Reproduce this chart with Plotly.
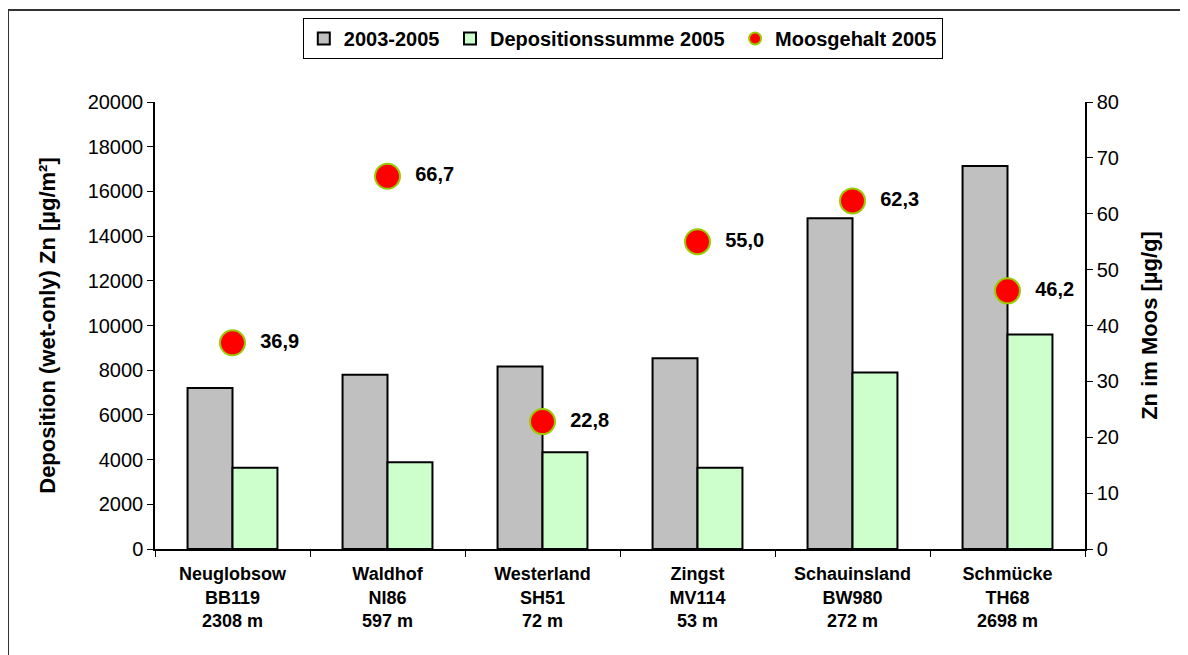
import plotly.graph_objects as go

stations = ["Neuglobsow", "Waldhof", "Westerland", "Zingst", "Schauinsland", "Schmücke"]
codes = ["BB119", "NI86", "SH51", "MV114", "BW980", "TH68"]
heights = ["2308 m", "597 m", "72 m", "53 m", "272 m", "2698 m"]
dep_2003_2005 = [7200, 7800, 8160, 8530, 14800, 17140]
dep_sum_2005 = [3630, 3880, 4330, 3640, 7900, 9600]
moss_2005 = [36.9, 66.7, 22.8, 55.0, 62.3, 46.2]

cats = [f"{s}<br>{c}<br>{h}" for s, c, h in zip(stations, codes, heights)]
moss_labels = ["  " + f"{v:.1f}".replace(".", ",") for v in moss_2005]
FONT = "Liberation Sans, Arial, sans-serif"

fig = go.Figure()
fig.add_trace(go.Bar(x=cats, y=dep_2003_2005, name="2003-2005 ",
                     marker=dict(color="#C0C0C0", line=dict(color="black", width=2))))
fig.add_trace(go.Bar(x=cats, y=dep_sum_2005, name="Depositionssumme 2005 ",
                     marker=dict(color="#CCFFCC", line=dict(color="black", width=2))))
fig.add_trace(go.Scatter(x=cats, y=moss_2005, name="Moosgehalt 2005", yaxis="y2",
                         mode="markers+text", text=moss_labels, textposition="middle right",
                         textfont=dict(family=FONT, size=20, color="black", weight="bold"),
                         marker=dict(color="#FF0000", size=25,
                                     line=dict(color="#99CC00", width=2))))

# page body has an 8px margin; figure coordinates = reference pixel - OFF
OFF = 8
W, H = 1188 - OFF, 655 - OFF
L, R, T, B = 155 - OFF, 1085 - OFF, 102 - OFF, 549 - OFF
def px(x): return (x - OFF - L) / (R - L)
def py(y): return (B - (y - OFF)) / (B - T)

fig.update_layout(
    width=W, height=H,
    margin=dict(l=L, r=W - R, t=T, b=H - B, autoexpand=False),
    paper_bgcolor="white", plot_bgcolor="white",
    font=dict(family=FONT, color="black", size=19),
    barmode="group", bargap=0.42, bargroupgap=0,
    showlegend=True,
    legend=dict(orientation="h", x=0.503, xanchor="center", y=py(18), yanchor="top",
                bordercolor="black", borderwidth=1, bgcolor="white",
                font=dict(family=FONT, size=20, weight="bold"),
                itemsizing="constant", traceorder="normal", itemwidth=30),
    xaxis=dict(type="category", showline=True, linecolor="black", linewidth=1.5,
               ticks="outside", ticklen=6, tickcolor="black", tickson="boundaries",
               tickfont=dict(family=FONT, size=18, weight="bold"), showgrid=False,
               automargin=False, ticklabelstandoff=8),
    yaxis=dict(range=[0, 20000], dtick=2000, tickformat="d", showline=True,
               linecolor="black", linewidth=1.5,
               ticks="outside", ticklen=6, tickcolor="black", showgrid=False, zeroline=False,
               tickfont=dict(size=20), automargin=False,
               title=dict(text="Deposition (wet-only) Zn [µg/m²]", standoff=26,
                          font=dict(size=22, weight="bold"))),
    yaxis2=dict(range=[0, 80], dtick=10, overlaying="y", side="right", showline=True,
                linecolor="black", linewidth=1.5, ticks="outside", ticklen=6, tickcolor="black",
                showgrid=False, zeroline=False, tickfont=dict(size=20), automargin=False,
                title=dict(text="Zn im Moos [µg/g]", standoff=24,
                           font=dict(size=22, weight="bold"))),
    shapes=[
        dict(type="line", xref="paper", yref="paper", x0=px(8), x1=px(1200), y0=py(10), y1=py(10),
             line=dict(color="#333333", width=2)),
        dict(type="line", xref="paper", yref="paper", x0=px(8), x1=px(8), y0=py(10), y1=py(670),
             line=dict(color="#333333", width=2)),
    ],
)

fig.write_html("out.html")
